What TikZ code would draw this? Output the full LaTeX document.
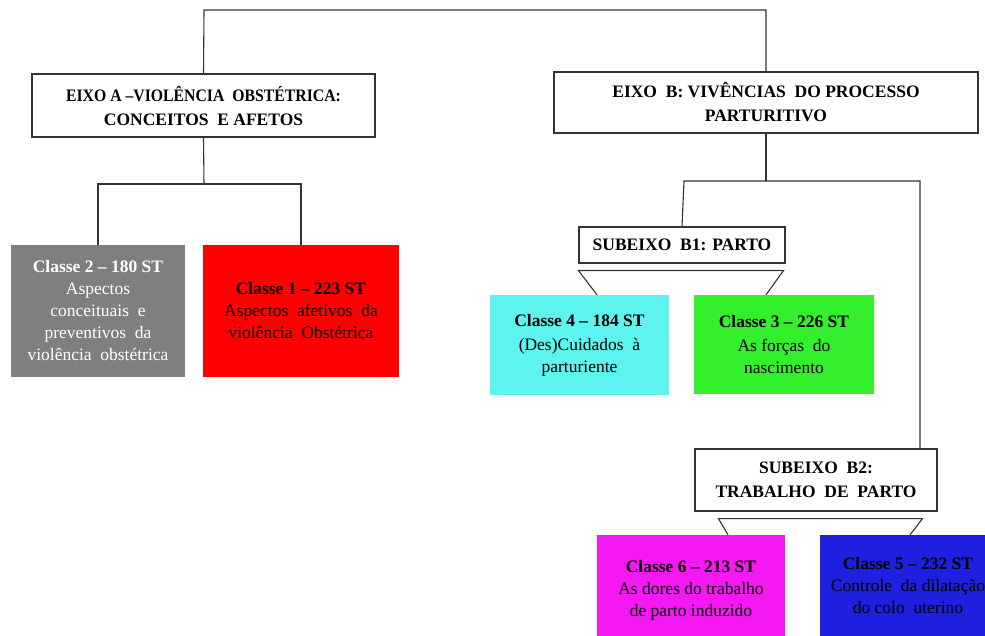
\documentclass[tikz,border=0pt]{standalone}
\usepackage{fontspec}
\setmainfont{Liberation Serif}
\usetikzlibrary{positioning, calc}

\definecolor{cinza}{HTML}{7F7F7F}
\definecolor{vermelho}{HTML}{FF0000}
\definecolor{ciano}{HTML}{5DF3EF}
\definecolor{verde}{HTML}{34EF2B}
\definecolor{magenta}{HTML}{F418F2}
\definecolor{azul}{HTML}{1F1FDF}
\definecolor{linha}{HTML}{333333}

\tikzset{
    eixo/.style={draw=linha, line width=1.1pt, fill=white, align=center, inner sep=0pt,
        font=\fontsize{17.5}{24}\selectfont\bfseries},
    classe/.style={align=center, inner sep=0pt, font=\fontsize{17.5}{22}\selectfont},
    ligacao/.style={draw=linha, line width=1.1pt},
}

\begin{document}
\begin{tikzpicture}[x=1pt, y=-1pt]
    \useasboundingbox (0,0) rectangle (985,636);
    \clip (0,0) rectangle (985,636);

    % Eixos
    \node[eixo, minimum width=343, minimum height=63] (eixoA) at (203.5,105.5)
        {\scalebox{0.9}[1]{EIXO A --VIOLÊNCIA\ \ OBSTÉTRICA:}\\CONCEITOS\ \ E AFETOS};
    \node[eixo, minimum width=424, minimum height=61] (eixoB) at (766,102.5)
        {EIXO\ \ B: VIVÊNCIAS\ \ DO PROCESSO\\PARTURITIVO};

    % Classes do eixo A
    \node[classe, fill=cinza, text=white, minimum width=174, minimum height=132] (cl2) at (98,311)
        {\textbf{Classe 2 -- 180 ST}\\Aspectos\\conceituais \ e\\preventivos \ da\\violência \ obstétrica};
    \node[classe, fill=vermelho, minimum width=196, minimum height=132] (cl1) at (301,311)
        {\textbf{Classe 1 -- 223 ST}\\Aspectos \ afetivos \ da\\violência \ Obstétrica};

    % Subeixos
    \node[eixo, minimum width=206, minimum height=36] (b1) at (682,245) {SUBEIXO\ \ B1: PARTO};
    \node[eixo, minimum width=242, minimum height=62] (b2) at (816,480)
        {SUBEIXO\ \ B2:\\TRABALHO\ \ DE\ \ PARTO};

    % Classes do eixo B
    \node[classe, fill=ciano, minimum width=179, minimum height=100] (cl4) at (579.5,345)
        {\textbf{Classe 4 -- 184 ST}\\[2pt](Des)Cuidados \ à\\parturiente};
    \node[classe, fill=verde, minimum width=180, minimum height=99] (cl3) at (784,344.5)
        {\textbf{Classe 3 -- 226 ST}\\[2pt]As forças \ do\\nascimento};
    \node[classe, fill=magenta, minimum width=188, minimum height=110] (cl6) at (691,590)
        {\textbf{Classe 6 -- 213 ST}\\As dores do trabalho\\de parto induzido};
    \node[classe, fill=azul, minimum width=176, minimum height=102] (cl5) at (908,586)
        {\textbf{Classe 5 -- 232 ST}\\Controle \ da dilatação\\do colo \ uterino};

    % Ligacoes
    \coordinate (ja) at (204,184);
    \coordinate (jb1) at (684,181);
    \coordinate (jb2) at (920,181);
    \draw[ligacao] (eixoA.north) -- (204,10) -| (eixoB.north);
    \draw[ligacao] (eixoA.south) -- (ja);
    \draw[ligacao] (cl2.north) |- (ja) -| (cl1.north);
    \draw[ligacao] (eixoB.south) -- (eixoB.south |- jb1);
    \draw[ligacao] (b1.north) -- (jb1) -- (jb2) -- (jb2 |- b2.north);
    \draw[ligacao] ($(cl4.north)+(17.5,0)$) -- ($(b1.south west)+(0,7)$)
        -- ($(b1.south east)+(-2,7)$) -- ($(cl3.north)+(-18,0)$);
    \draw[ligacao] ($(cl6.north)+(37,0)$) -- ($(b2.south west)+(24,7)$)
        -- ($(b2.south east)+(-15,7)$) -- ($(cl5.north)+(2,0)$);

\end{tikzpicture}
\end{document}
